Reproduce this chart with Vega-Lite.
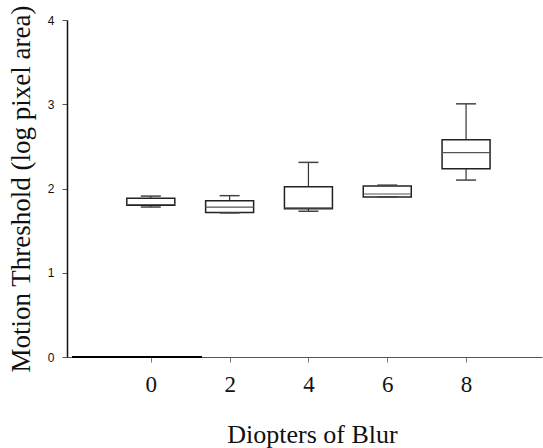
{
  "$schema": "https://vega.github.io/schema/vega-lite/v6.json",
  "autosize": "none",
  "width": 475,
  "height": 337,
  "padding": {"left": 67, "top": 20, "right": 1, "bottom": 91},
  "background": "white",
  "view": {"stroke": null},
  "config": {
    "axis": {"grid": false, "ticks": true, "tickSize": 5}
  },
  "datasets": {
    "blur": [
      {"diopters": 0, "lo": 1.78, "q1": 1.80, "median": 1.81, "q3": 1.885, "hi": 1.91},
      {"diopters": 2, "lo": 1.71, "q1": 1.715, "median": 1.78, "q3": 1.855, "hi": 1.915},
      {"diopters": 4, "lo": 1.73, "q1": 1.76, "median": 1.77, "q3": 2.02, "hi": 2.31},
      {"diopters": 6, "lo": 1.90, "q1": 1.90, "median": 1.935, "q3": 2.03, "hi": 2.04},
      {"diopters": 8, "lo": 2.10, "q1": 2.235, "median": 2.425, "q3": 2.58, "hi": 3.005}
    ],
    "baseline": [
      {"start": -2, "end": 1.3, "level": 0}
    ]
  },
  "layer": [
    {
      "data": {"name": "blur"},
      "mark": {"type": "rule", "color": "#333", "strokeWidth": 1.2},
      "encoding": {
        "x": {
          "field": "diopters", "type": "quantitative",
          "scale": {"domain": [-2, 9.8], "nice": false, "zero": false},
          "axis": {
            "values": [0, 2, 4, 6, 8],
            "format": "d",
            "title": "Diopters of Blur",
            "titleFont": "Liberation Serif", "titleFontSize": 26, "titleFontWeight": "normal",
            "titleColor": "#111", "titlePadding": 25, "titleX": 245,
            "labelFont": "Liberation Serif", "labelFontSize": 23, "labelColor": "#111",
            "labelPadding": 11,
            "domainColor": "#555", "domainWidth": 1.2, "tickColor": "#777"
          }
        },
        "y": {
          "field": "lo", "type": "quantitative",
          "scale": {"domain": [0, 4], "nice": false},
          "axis": {
            "values": [0, 1, 2, 3, 4],
            "format": "d",
            "title": "Motion Threshold (log pixel area)",
            "titleFont": "Liberation Serif", "titleFontSize": 27, "titleFontWeight": "normal",
            "titleColor": "#111", "titlePadding": 12,
            "labelFont": "Liberation Sans", "labelFontSize": 12, "labelColor": "#111",
            "labelPadding": 8,
            "domainColor": "#111", "domainWidth": 1.5, "tickColor": "#555"
          }
        },
        "y2": {"field": "hi"}
      }
    },
    {
      "data": {"name": "blur"},
      "mark": {"type": "bar", "size": 48, "fill": "white", "stroke": "#222", "strokeWidth": 1.5},
      "encoding": {
        "x": {"field": "diopters", "type": "quantitative"},
        "y": {"field": "q1", "type": "quantitative"},
        "y2": {"field": "q3"}
      }
    },
    {
      "data": {"name": "blur"},
      "mark": {"type": "rule", "color": "#555", "strokeWidth": 1.2, "xOffset": -24, "x2Offset": 24},
      "encoding": {
        "x": {"field": "diopters", "type": "quantitative"},
        "x2": {"field": "diopters"},
        "y": {"field": "median", "type": "quantitative"}
      }
    },
    {
      "data": {"name": "blur"},
      "mark": {"type": "rule", "color": "#444", "strokeWidth": 1.5, "xOffset": -10, "x2Offset": 10},
      "encoding": {
        "x": {"field": "diopters", "type": "quantitative"},
        "x2": {"field": "diopters"},
        "y": {"field": "hi", "type": "quantitative"}
      }
    },
    {
      "data": {"name": "blur"},
      "mark": {"type": "rule", "color": "#444", "strokeWidth": 1.5, "xOffset": -10, "x2Offset": 10},
      "encoding": {
        "x": {"field": "diopters", "type": "quantitative"},
        "x2": {"field": "diopters"},
        "y": {"field": "lo", "type": "quantitative"}
      }
    },
    {
      "data": {"name": "baseline"},
      "mark": {"type": "rule", "color": "#000", "strokeWidth": 2},
      "encoding": {
        "x": {"field": "start", "type": "quantitative"},
        "x2": {"field": "end"},
        "y": {"field": "level", "type": "quantitative"}
      }
    }
  ]
}
